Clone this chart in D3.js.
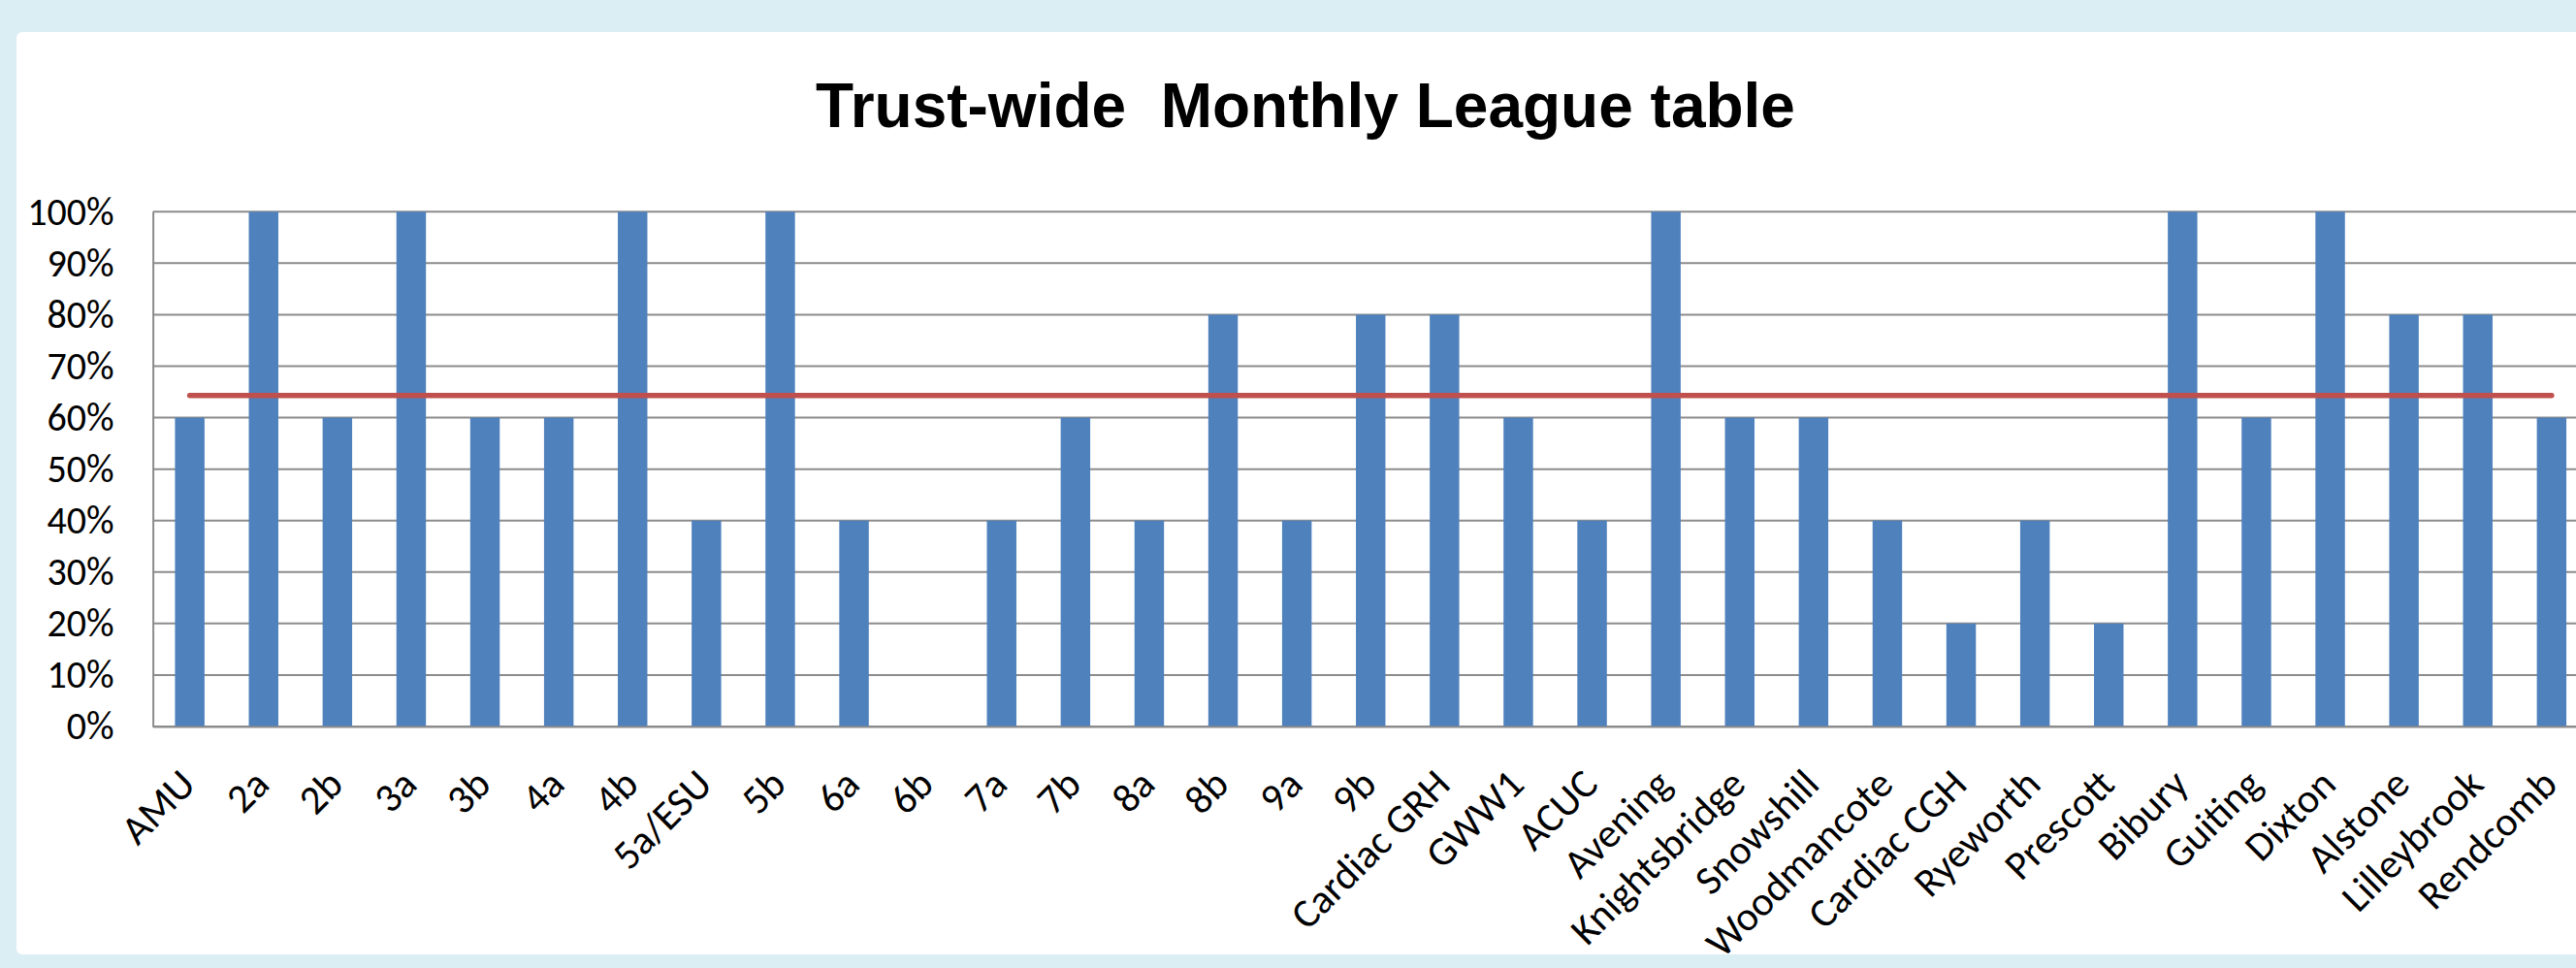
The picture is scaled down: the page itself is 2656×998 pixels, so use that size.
<!DOCTYPE html>
<html>
<head>
<meta charset="utf-8">
<script src="https://cdn.jsdelivr.net/npm/d3@7/dist/d3.min.js"></script>
<style>
  html, body { margin: 0; padding: 0; background: #DBEEF4; overflow: hidden; }
  svg { display: block; }
</style>
</head>
<body>
<svg id="chart" width="2656" height="998"></svg>
<script>
const categories = ["AMU","2a","2b","3a","3b","4a","4b","5a/ESU","5b","6a","6b","7a","7b","8a","8b","9a","9b","Cardiac GRH","GWW1","ACUC","Avening","Knightsbridge","Snowshill","Woodmancote","Cardiac CGH","Ryeworth","Prescott","Bibury","Guiting","Dixton","Alstone","Lilleybrook","Rendcomb"];
const scores = [0.6,1.0,0.6,1.0,0.6,0.6,1.0,0.4,1.0,0.4,0.0,0.4,0.6,0.4,0.8,0.4,0.8,0.8,0.6,0.4,1.0,0.6,0.6,0.4,0.2,0.4,0.2,1.0,0.6,1.0,0.8,0.8,0.6];
const target = [0.643,0.643,0.643,0.643,0.643,0.643,0.643,0.643,0.643,0.643,0.643,0.643,0.643,0.643,0.643,0.643,0.643,0.643,0.643,0.643,0.643,0.643,0.643,0.643,0.643,0.643,0.643,0.643,0.643,0.643,0.643,0.643,0.643];
const yTicks = [0,0.1,0.2,0.3,0.4,0.5,0.6,0.7,0.8,0.9,1.0];
const titleText = "Trust-wide  Monthly League table";

(function () {
const svg = d3.select("#chart");
const labelFont = "Carlito, Calibri, Lato, sans-serif";

// white panel
svg.append("rect").attr("x", 17).attr("y", 33).attr("width", 2700).attr("height", 951)
  .attr("rx", 6).attr("fill", "#ffffff");

const plotLeft = 157.6, step = 76.1, plotTop = 218.3, plotBottom = 749;
const plotRight = plotLeft + step * categories.length;
const x = d3.scaleBand().domain(categories).range([plotLeft, plotRight])
  .paddingInner(0.6).paddingOuter(0.3);
const y = d3.scaleLinear().domain([0, 1]).range([plotBottom, plotTop]);

// gridlines
svg.append("g").selectAll("line").data(yTicks).join("line")
  .attr("x1", plotLeft).attr("x2", plotRight)
  .attr("y1", d => y(d)).attr("y2", d => y(d))
  .attr("stroke", "#8C8C8C").attr("stroke-width", 2);

// y axis
const yAxis = d3.axisLeft(y).tickValues(yTicks).tickFormat(d3.format(".0%")).tickSize(0).tickPadding(40);
const gy = svg.append("g").attr("transform", `translate(${plotLeft},0)`).call(yAxis);
gy.select(".domain").attr("stroke", "#8C8C8C").attr("stroke-width", 2);
gy.selectAll("text").attr("font-family", labelFont).attr("font-size", 40).attr("fill", "#000");

// bars
svg.append("g").selectAll("rect").data(categories).join("rect")
  .attr("x", d => x(d)).attr("width", x.bandwidth())
  .attr("y", (d, i) => y(scores[i])).attr("height", (d, i) => y(0) - y(scores[i]))
  .attr("fill", "#4F81BD");

// x axis
const xAxis = d3.axisBottom(x).tickSize(0).tickPadding(0);
const gx = svg.append("g").attr("transform", `translate(0,${plotBottom})`).call(xAxis);
gx.select(".domain").attr("stroke", "#8C8C8C").attr("stroke-width", 2);
gx.selectAll("text")
  .attr("font-family", labelFont).attr("font-size", 42).attr("fill", "#000")
  .attr("text-anchor", "end").attr("dy", null).attr("y", 0)
  .attr("transform", "translate(8,62) rotate(-45)");

// target line
const line = d3.line().x((d, i) => x(categories[i]) + x.bandwidth() / 2).y(d => y(d));
svg.append("path").datum(target).attr("d", line)
  .attr("fill", "none").attr("stroke", "#C0504D").attr("stroke-width", 5.5).attr("stroke-linecap", "round");

// title
svg.append("text").attr("x", 1346).attr("y", 131).attr("text-anchor", "middle")
  .attr("font-family", "Liberation Sans, Arial, sans-serif").attr("font-weight", "bold")
  .attr("font-size", 64).attr("fill", "#000")
  .attr("xml:space", "preserve").style("white-space", "pre").text(titleText);
})();
</script>
</body>
</html>
